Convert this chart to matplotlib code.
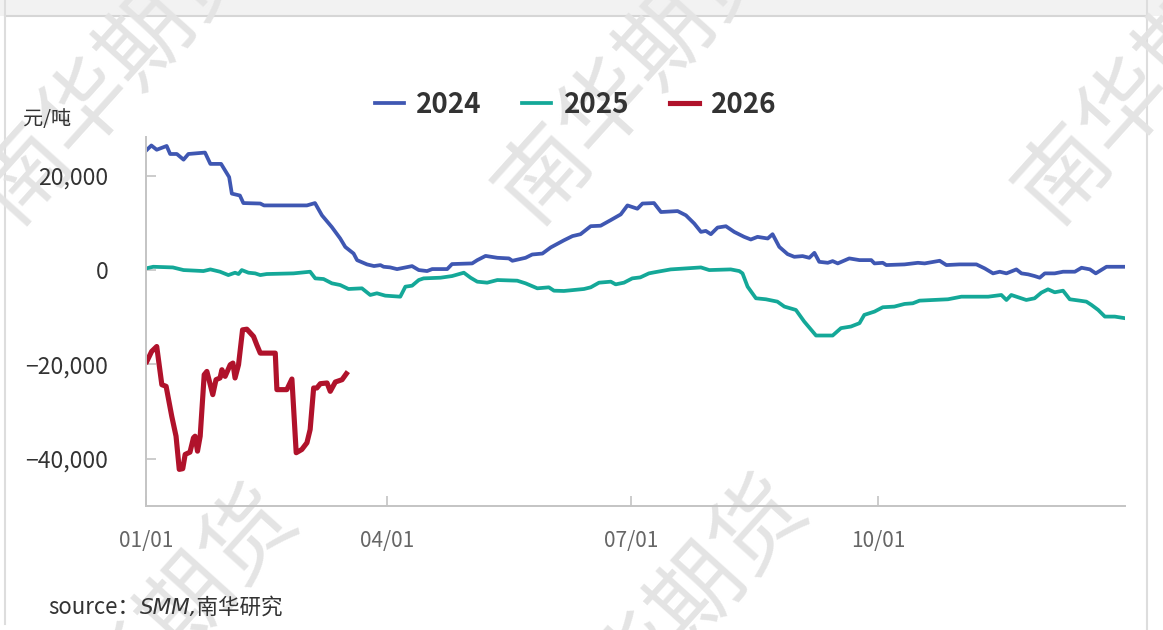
import matplotlib
matplotlib.use("Agg")
import matplotlib.pyplot as plt
from matplotlib.patches import Rectangle
from matplotlib.ticker import FuncFormatter

plt.rcParams['font.family'] = ['Noto Sans CJK SC', 'DejaVu Sans']

# x = day of year (0 = 01/01), y = 元/吨
days_2024 = [0, 2, 4, 7.7, 9, 11.5, 14, 15.8, 22, 24, 28, 31, 32, 35, 36.3, 42.6, 44, 60, 63,
             65.6, 69.3, 72.4, 74.3, 77.4, 78.7, 82.4, 85, 87.4, 88.6, 91, 93.6, 99.2, 101.7,
             104.8, 106.7, 112.3, 114.1, 121.6, 123.5, 126.6, 131, 135.3, 136.6, 141.5, 144,
             147.8, 150.9, 155.8, 159, 162, 165.8, 169.5, 173.3, 177, 179.5, 183.2, 185.1,
             189.4, 192, 198.2, 201.3, 204.4, 206.9, 208.7, 210.6, 213.1, 216.2, 219.3, 223,
             225.5, 228, 231.8, 233.6, 236.1, 239.2, 241.7, 244.8, 247.3, 249.2, 251, 254.2,
             256, 257.9, 262.2, 266, 270.4, 271.6, 274.7, 276, 282.8, 287.8, 290.3, 295.9,
             298.4, 303.3, 309.6, 312.7, 315.8, 318.3, 320.8, 324.5, 326.4, 328.9, 331.3,
             333.2, 335.1, 338.8, 341.9, 346.3, 348.8, 351.9, 354.1, 358.1, 365]
vals_2024 = [25300, 26400, 25500, 26300, 24600, 24600, 23400, 24600, 24900, 22500, 22500,
             19700, 16200, 15800, 14200, 14100, 13700, 13700, 14200, 11600, 9100, 6700, 4900,
             3500, 2100, 1200, 850, 1050, 700, 570, 200, 840, 0, -210, 210, 210, 1270, 1410,
             2100, 3000, 2600, 2470, 1970, 2600, 3300, 3500, 4800, 6300, 7200, 7600, 9300,
             9400, 10600, 11800, 13700, 13000, 14100, 14200, 12300, 12500, 11600, 9860, 8090,
             8300, 7600, 9010, 9290, 8090, 7040, 6480, 7040, 6690, 7600, 4920, 3380, 2810,
             2960, 2600, 3650, 1750, 1540, 1900, 1410, 2470, 2110, 2110, 1410, 1540, 1060,
             1200, 1540, 1410, 1970, 1060, 1200, 1200, 350, -700, -350, -700, 140, -700, -910,
             -1270, -1620, -700, -700, -350, -350, 490, 150, -700, 700, 700]

days_2025 = [0, 2.7, 10, 14, 21.4, 24, 27.6, 30.7, 33.2, 34.5, 35.7, 38.2, 40.7, 42.6, 45, 55,
             61.2, 63.1, 66.2, 69.3, 72.4, 75.5, 80.5, 83.6, 86.1, 89.2, 94.8, 96.7, 99.2,
             101.7, 103.5, 109.8, 114.1, 118.5, 121, 123.5, 127.2, 131, 138.4, 141.5, 145.9,
             150.2, 152.1, 155.8, 163.3, 165.8, 168.9, 173.3, 175.1, 178.2, 181.3, 184.3,
             187.5, 189.4, 195.6, 206.9, 210, 218, 221.2, 222.4, 224.3, 227.4, 231.1, 235.4,
             238, 242.3, 245.4, 249.8, 256, 259.1, 262.8, 266, 267.8, 271.6, 274.7, 279,
             282.8, 285.9, 288.4, 299, 304, 314, 318.9, 320.8, 322.6, 328.2, 331.3, 333.8,
             336.3, 338.8, 341.9, 344.4, 348.1, 350.6, 352.5, 355, 357.5, 361.2, 365]
vals_2025 = [350, 700, 560, 0, -210, 140, -350, -1060, -560, -840, 0, -560, -700, -1060, -840,
             -700, -350, -1760, -1900, -2810, -3170, -4010, -3870, -5280, -4920, -5420, -5640,
             -3520, -3310, -2110, -1760, -1620, -1270, -560, -1620, -2460, -2670, -2110,
             -2250, -2810, -3870, -3660, -4370, -4430, -4010, -3660, -2670, -2460, -3030,
             -2670, -1760, -1550, -700, -490, 140, 560, 0, 140, -210, -700, -3520, -5980,
             -6190, -6690, -7740, -8450, -10910, -13870, -13870, -12310, -11970, -11260,
             -9500, -8800, -7880, -7740, -7180, -7040, -6480, -6190, -5640, -5640, -5280,
             -6340, -5280, -6340, -5980, -4790, -4080, -4710, -4370, -6190, -6480, -6690,
             -7390, -8450, -9860, -9860, -10200]

days_2026 = [0.3, 2.1, 4, 5.9, 7.5, 9.6, 11.2, 12.4, 13.7, 14.6, 16.4, 17.7, 18.3, 19.2, 20.2,
             21.7, 22.7, 24.9, 26.1, 27.6, 28.3, 29.5, 31.4, 32.4, 33.2, 34.5, 36, 37.6, 40.1,
             41.3, 42.6, 48.2, 48.8, 52.5, 54.4, 56, 58.1, 60, 61.2, 62.5, 63.7, 65, 67.5,
             68.7, 70.6, 73.1, 74.7]
vals_2026 = [-19370, -17250, -16200, -24290, -24640, -30980, -35210, -42240, -42090, -39070,
             -38590, -35550, -35210, -38380, -35210, -22180, -21480, -26400, -23230, -22870,
             -21120, -22530, -20060, -19710, -22870, -20060, -12670, -12530, -14080, -15840,
             -17600, -17600, -25340, -25340, -23090, -38710, -38020, -36600, -33790, -24990,
             -24990, -24080, -23930, -25700, -23720, -23230, -21960]

tick_days = [0, 90, 181, 273]
tick_labels = ["01/01", "04/01", "07/01", "10/01"]
y_ticks = [20000, 0, -20000, -40000]

fig = plt.figure(figsize=(11.63, 6.3), dpi=100)

# card frame + header strip
fig.patches.append(Rectangle((0, 1 - 16 / 630), 1, 16 / 630, transform=fig.transFigure,
                             facecolor='#f2f2f2', edgecolor='none', zorder=-3))
fig.add_artist(plt.Line2D([0.004, 0.986], [1 - 16 / 630] * 2, transform=fig.transFigure,
                          color='#d6d6d6', lw=1.5, zorder=-2))
fig.add_artist(plt.Line2D([0.004, 0.004], [0.01, 1], transform=fig.transFigure,
                          color='#dddddd', lw=1.5, zorder=-2))
fig.add_artist(plt.Line2D([0.986, 0.986], [0.0, 1], transform=fig.transFigure,
                          color='#dddddd', lw=1.5, zorder=-2))

# watermark (partly outside the card, as in the original)
for cx, cy in [(117, 72), (637, 72), (1157, 72), (158, 636), (668, 626)]:
    fig.text(cx / 1163, 1 - cy / 630, "南华期货", fontsize=66, color='#e4e4e4',
             rotation=48, ha='center', va='center', zorder=-1)

ax = fig.add_axes([146 / 1163, 1 - 506 / 630, (1125 - 146) / 1163, (506 - 137) / 630])
ax.patch.set_visible(False)

ax.plot(days_2024, vals_2024, color='#3f57b2', lw=2.7, label='2024', solid_joinstyle='round')
ax.plot(days_2025, vals_2025, color='#14a898', lw=2.7, label='2025', solid_joinstyle='round')
ax.plot(days_2026, vals_2026, color='#b0122b', lw=3.7, label='2026', solid_joinstyle='round')

ax.set_xlim(0, 365)
ax.set_ylim(-50000, 28200)
ax.set_xticks(tick_days)
ax.set_xticklabels(tick_labels)
ax.set_yticks(y_ticks)
ax.yaxis.set_major_formatter(FuncFormatter(lambda v, p: f"{v:,.0f}".replace('-', '\u2212')))

for s in ['top', 'right']:
    ax.spines[s].set_visible(False)
for s in ['left', 'bottom']:
    ax.spines[s].set_color('#c4c4c4')
    ax.spines[s].set_linewidth(1.4)

ax.tick_params(axis='y', direction='in', length=7, width=1.2, color='#c4c4c4',
               labelsize=16.5, labelcolor='#333333', pad=27)
ax.tick_params(axis='x', direction='in', length=7, width=1.2, color='#c4c4c4',
               labelsize=15, labelcolor='#666666', pad=17)

fig.legend(loc='center', bbox_to_anchor=(0.495, 1 - 105 / 630), ncol=3, frameon=False,
           prop={'size': 20, 'weight': 'bold'}, handlelength=1.05, handletextpad=0.45,
           columnspacing=1.45, labelcolor='#333333')

fig.text(23 / 1163, 1 - 120 / 630, "元/吨", fontsize=14.5, color='#333333', va='center')
fig.text(48 / 1163, 1 - 607 / 630, "source：", fontsize=16, color='#333333', va='center')
fig.text(140 / 1163, 1 - 607 / 630, "SMM,南华研究", fontsize=15.5, color='#333333',
         va='center', style='italic', family=['DejaVu Sans', 'Noto Sans CJK SC'])

fig.savefig("out.png", dpi=100)
